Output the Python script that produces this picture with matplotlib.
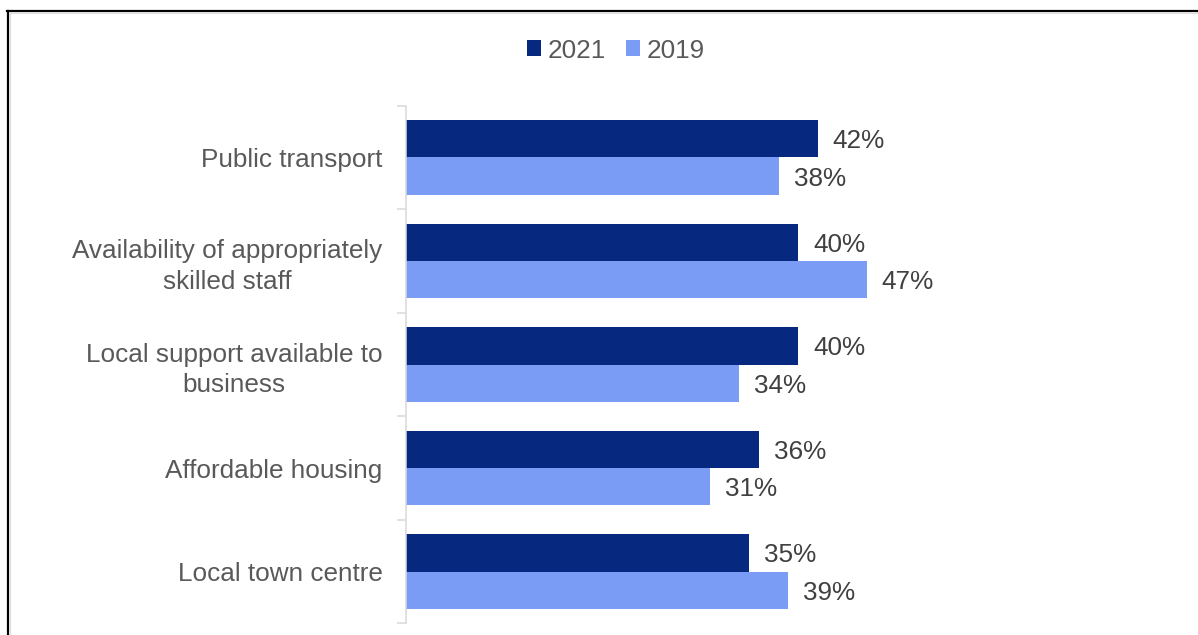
import matplotlib
matplotlib.use("Agg")
import matplotlib.pyplot as plt
from matplotlib.lines import Line2D
import numpy as np

plt.rcParams["font.family"] = ["Liberation Sans", "DejaVu Sans"]

categories = [
    "Public transport",
    "Availability of appropriately\nskilled staff",
    "Local support available to\nbusiness",
    "Affordable housing",
    "Local town centre",
]
values_2021 = [42, 40, 40, 36, 35]
values_2019 = [38, 47, 34, 31, 39]
series_names = ["2021", "2019"]

color_2021 = "#06287E"
color_2019 = "#7A9CF5"
label_color = "#595959"
value_color = "#404040"
axis_color = "#D9D9D9"
fs = 18.8

W, H = 1198, 635
fig = plt.figure(figsize=(W / 100, H / 100), dpi=100)
fig.patch.set_facecolor("white")

ax = fig.add_axes([406.5 / W, (H - 623.3) / H, 783.5 / W, (623.3 - 105.7) / H])

y = np.arange(len(categories))
bh = 0.362
b1 = ax.barh(y - bh / 2, values_2021, height=bh, color=color_2021, label=series_names[0])
b2 = ax.barh(y + bh / 2, values_2019, height=bh, color=color_2019, label=series_names[1])

value_texts = []
value_texts += ax.bar_label(b1, labels=[f"{v}%" for v in values_2021], padding=10.8,
                            fontsize=fs, color=value_color)
value_texts += ax.bar_label(b2, labels=[f"{v}%" for v in values_2019], padding=10.8,
                            fontsize=fs, color=value_color)
for t in value_texts:
    t.set_verticalalignment("center_baseline")

ax.set_xlim(0, 80)
ax.set_ylim(len(categories) - 0.5, -0.5)
ax.set_xticks([])

# Category labels at band centres, tick marks at band boundaries
ax.set_yticks(y)
ax.set_yticklabels(categories, fontsize=fs, color=label_color)
for t in ax.get_yticklabels():
    t.set_multialignment("center")
    t.set_linespacing(1.32)
ax.tick_params(axis="y", which="major", length=0, pad=17.3)
ax.set_yticks(np.arange(-0.5, len(categories), 1.0), minor=True)
ax.tick_params(axis="y", which="minor", length=6.5, width=1.1, color=axis_color)

for side in ["top", "right", "bottom"]:
    ax.spines[side].set_visible(False)
ax.spines["left"].set_color(axis_color)
ax.spines["left"].set_linewidth(1.1)

# Legend above the plot
fig.legend(handles=[b1, b2], labels=series_names, loc="center",
           bbox_to_anchor=(616 / W, 1 - 50.5 / H), ncol=2, frameon=False,
           fontsize=fs, labelcolor=label_color, handlelength=0.55,
           handleheight=0.55, handletextpad=0.25, columnspacing=0.75,
           borderaxespad=0)

# Outer chart frame (left and top edges)
fig.add_artist(Line2D([8 / W, 8 / W], [0, 1 - 10.5 / H], color="black",
                      linewidth=1.6, transform=fig.transFigure))
fig.add_artist(Line2D([7.3 / W, 1], [1 - 10.5 / H, 1 - 10.5 / H], color="black",
                      linewidth=1.6, transform=fig.transFigure))
fig.add_artist(Line2D([10 / W, 10 / W], [0, 1 - 12.5 / H], color="#DDDDDD",
                      linewidth=0.8, transform=fig.transFigure))
fig.add_artist(Line2D([10 / W, 1], [1 - 12.5 / H, 1 - 12.5 / H], color="#DDDDDD",
                      linewidth=0.8, transform=fig.transFigure))

fig.savefig("out.png", dpi=100, facecolor="white")
